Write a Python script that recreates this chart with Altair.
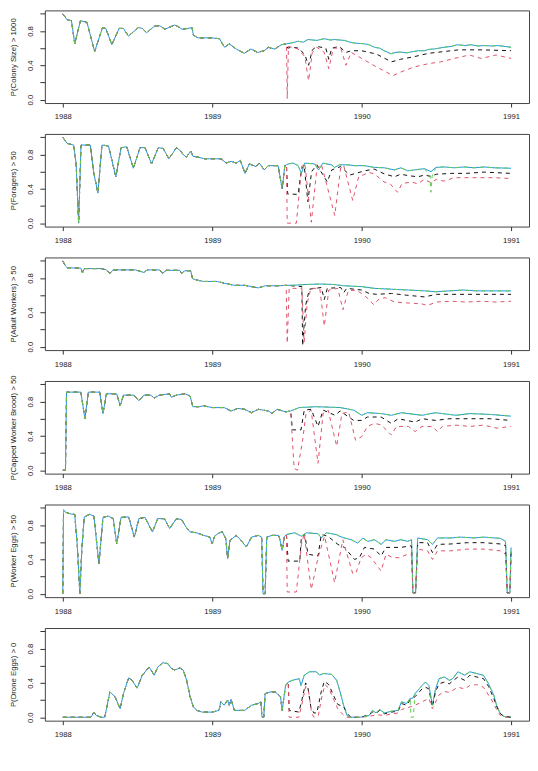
import altair as alt
import pandas as pd

years = [1988, 1989, 1990, 1991]
y_ticks = [0.0, 0.2, 0.4, 0.6, 0.8, 1.0]
titles = ["P(Colony Size) > 1000", "P(Foragers) > 50", "P(Adult Workers) > 50",
          "P(Capped Worker Brood) > 50", "P(Worker Eggs) > 50", "P(Drone Eggs) > 0"]

# ---------------- Panel 1: colony size ----------------
colony_base = [(1988.000, 1.00), (1988.029, 0.93), (1988.058, 0.92), (1988.080, 0.65), (1988.118, 0.92),
               (1988.162, 0.90), (1988.213, 0.56), (1988.266, 0.84), (1988.288, 0.83), (1988.328, 0.64),
               (1988.377, 0.83), (1988.406, 0.83), (1988.439, 0.74), (1988.506, 0.84), (1988.532, 0.83),
               (1988.561, 0.78), (1988.616, 0.86), (1988.650, 0.86), (1988.683, 0.82), (1988.749, 0.87),
               (1988.783, 0.84), (1988.798, 0.82), (1988.838, 0.83), (1988.865, 0.84), (1988.874, 0.75),
               (1988.905, 0.72), (1988.993, 0.72), (1989.049, 0.71), (1989.082, 0.61), (1989.115, 0.65),
               (1989.160, 0.59), (1989.215, 0.54), (1989.259, 0.59), (1989.304, 0.55), (1989.348, 0.57),
               (1989.375, 0.61), (1989.419, 0.59), (1989.463, 0.64), (1989.497, 0.65)]
colony_blue = [(1989.53, 0.66), (1989.575, 0.68), (1989.61, 0.67), (1989.64, 0.70), (1989.70, 0.69),
               (1989.75, 0.71), (1989.79, 0.695), (1989.82, 0.70), (1989.885, 0.69), (1989.92, 0.67),
               (1989.95, 0.66), (1990.02, 0.65), (1990.05, 0.64), (1990.085, 0.61), (1990.12, 0.60),
               (1990.15, 0.57), (1990.195, 0.535), (1990.23, 0.55), (1990.26, 0.555), (1990.30, 0.545),
               (1990.33, 0.555), (1990.38, 0.57), (1990.42, 0.57), (1990.45, 0.585), (1990.485, 0.59),
               (1990.52, 0.60), (1990.55, 0.61), (1990.60, 0.62), (1990.64, 0.64), (1990.69, 0.63),
               (1990.73, 0.64), (1990.78, 0.625), (1990.82, 0.63), (1990.87, 0.625), (1990.91, 0.63),
               (1990.96, 0.62), (1991.0, 0.61)]
colony_black = [(1989.505, 0.60), (1989.53, 0.61), (1989.58, 0.60), (1989.62, 0.52), (1989.645, 0.40),
                (1989.67, 0.58), (1989.70, 0.62), (1989.76, 0.60), (1989.78, 0.47), (1989.80, 0.60),
                (1989.85, 0.62), (1989.895, 0.55), (1989.93, 0.57), (1990.0, 0.57), (1990.1, 0.53),
                (1990.2, 0.44), (1990.26, 0.47), (1990.35, 0.50), (1990.45, 0.54), (1990.55, 0.56),
                (1990.65, 0.58), (1990.8, 0.58), (1991.0, 0.57)]
colony_red = [(1989.502, 0.01), (1989.51, 0.62), (1989.575, 0.59), (1989.62, 0.50), (1989.645, 0.22),
              (1989.67, 0.55), (1989.70, 0.61), (1989.75, 0.55), (1989.78, 0.36), (1989.81, 0.60),
              (1989.86, 0.60), (1989.895, 0.40), (1989.93, 0.55), (1990.0, 0.48), (1990.1, 0.38),
              (1990.21, 0.28), (1990.26, 0.32), (1990.35, 0.38), (1990.45, 0.42), (1990.53, 0.44),
              (1990.62, 0.48), (1990.72, 0.52), (1990.8, 0.48), (1990.9, 0.52), (1991.0, 0.48)]
colony_green = colony_blue

# ---------------- Panel 2: foragers ----------------
forager_base = [(1988.000, 1.00), (1988.029, 0.93), (1988.051, 0.92), (1988.073, 0.91), (1988.089, 0.70),
                (1988.106, 0.00), (1988.122, 0.91), (1988.184, 0.91), (1988.206, 0.60), (1988.235, 0.35),
                (1988.262, 0.91), (1988.306, 0.90), (1988.355, 0.54), (1988.390, 0.88), (1988.428, 0.89),
                (1988.472, 0.64), (1988.517, 0.88), (1988.550, 0.88), (1988.594, 0.69), (1988.639, 0.88),
                (1988.672, 0.87), (1988.710, 0.75), (1988.761, 0.88), (1988.789, 0.84), (1988.805, 0.80),
                (1988.827, 0.77), (1988.856, 0.84), (1988.871, 0.78), (1988.905, 0.77), (1988.949, 0.75),
                (1989.060, 0.75), (1989.093, 0.70), (1989.126, 0.72), (1989.160, 0.70), (1989.188, 0.73),
                (1989.220, 0.58), (1989.248, 0.69), (1989.293, 0.66), (1989.315, 0.70), (1989.348, 0.62),
                (1989.375, 0.67), (1989.441, 0.67), (1989.468, 0.40), (1989.486, 0.67), (1989.497, 0.68)]
forager_blue = [(1989.508, 0.69), (1989.541, 0.70), (1989.575, 0.67), (1989.597, 0.58), (1989.619, 0.70),
                (1989.686, 0.69), (1989.712, 0.62), (1989.741, 0.70), (1989.797, 0.68), (1989.819, 0.65),
                (1989.852, 0.68), (1989.908, 0.68), (1989.952, 0.67), (1990.019, 0.67), (1990.085, 0.65),
                (1990.152, 0.645), (1990.219, 0.62), (1990.263, 0.645), (1990.308, 0.61), (1990.375, 0.625),
                (1990.42, 0.635), (1990.464, 0.60), (1990.497, 0.65), (1990.553, 0.655), (1990.62, 0.645),
                (1990.686, 0.655), (1990.752, 0.645), (1990.819, 0.655), (1990.886, 0.645), (1991.0, 0.64)]
forager_black = [(1989.505, 0.34), (1989.575, 0.335), (1989.59, 0.54), (1989.60, 0.63), (1989.615, 0.68),
                 (1989.64, 0.25), (1989.665, 0.60), (1989.70, 0.68), (1989.77, 0.48), (1989.80, 0.62),
                 (1989.86, 0.66), (1989.92, 0.56), (1989.96, 0.58), (1990.02, 0.61), (1990.085, 0.63),
                 (1990.15, 0.575), (1990.22, 0.54), (1990.26, 0.57), (1990.31, 0.555), (1990.375, 0.54),
                 (1990.42, 0.56), (1990.464, 0.545), (1990.50, 0.57), (1990.6, 0.58), (1990.7, 0.58),
                 (1990.82, 0.595), (1991.0, 0.58)]
forager_red = [(1989.502, 0.00), (1989.563, 0.00), (1989.59, 0.50), (1989.60, 0.67), (1989.62, 0.69),
               (1989.663, 0.01), (1989.70, 0.63), (1989.73, 0.69), (1989.82, 0.09), (1989.86, 0.65),
               (1989.88, 0.67), (1989.94, 0.265), (1989.98, 0.54), (1990.05, 0.59), (1990.085, 0.575),
               (1990.15, 0.48), (1990.19, 0.46), (1990.24, 0.36), (1990.27, 0.46), (1990.33, 0.48),
               (1990.375, 0.46), (1990.42, 0.51), (1990.464, 0.47), (1990.50, 0.51), (1990.55, 0.49),
               (1990.62, 0.53), (1990.75, 0.53), (1990.88, 0.53), (1991.0, 0.52)]
forager_green = [(1989.508, 0.69), (1989.541, 0.70), (1989.575, 0.67), (1989.597, 0.58), (1989.619, 0.70),
                 (1989.686, 0.69), (1989.712, 0.62), (1989.741, 0.70), (1989.797, 0.68), (1989.819, 0.65),
                 (1989.852, 0.68), (1989.908, 0.68), (1989.952, 0.67), (1990.019, 0.67), (1990.085, 0.65),
                 (1990.152, 0.645), (1990.219, 0.62), (1990.263, 0.645), (1990.308, 0.61), (1990.375, 0.625),
                 (1990.42, 0.635), (1990.458, 0.55), (1990.464, 0.36), (1990.472, 0.55), (1990.497, 0.65),
                 (1990.553, 0.655), (1990.62, 0.645), (1990.686, 0.655), (1990.752, 0.645), (1990.819, 0.655),
                 (1990.886, 0.645), (1991.0, 0.64)]

# ---------------- Panel 3: adult workers ----------------
adult_base = [(1988.000, 1.00), (1988.018, 0.94), (1988.030, 0.92), (1988.121, 0.915), (1988.132, 0.86),
              (1988.144, 0.91), (1988.258, 0.91), (1988.292, 0.895), (1988.315, 0.855), (1988.338, 0.895),
              (1988.486, 0.895), (1988.543, 0.865), (1988.566, 0.895), (1988.646, 0.895), (1988.669, 0.855),
              (1988.692, 0.89), (1988.783, 0.89), (1988.795, 0.855), (1988.817, 0.885), (1988.856, 0.885),
              (1988.868, 0.795), (1988.886, 0.78), (1988.943, 0.76), (1989.034, 0.76), (1989.080, 0.74),
              (1989.148, 0.715), (1989.217, 0.715), (1989.263, 0.70), (1989.308, 0.685), (1989.354, 0.71),
              (1989.445, 0.71), (1989.495, 0.715)]
adult_blue = [(1989.537, 0.715), (1989.628, 0.725), (1989.719, 0.73), (1989.811, 0.725), (1989.879, 0.71),
              (1990.0, 0.70), (1990.084, 0.68), (1990.199, 0.67), (1990.313, 0.66), (1990.427, 0.65),
              (1990.495, 0.64), (1990.587, 0.65), (1990.678, 0.66), (1990.769, 0.65), (1990.884, 0.65),
              (1991.0, 0.65)]
adult_black = [(1989.6, 0.70), (1989.605, 0.01), (1989.625, 0.48), (1989.65, 0.67), (1989.73, 0.69),
               (1989.75, 0.55), (1989.77, 0.68), (1989.86, 0.69), (1989.88, 0.63), (1989.9, 0.68),
               (1990.0, 0.66), (1990.05, 0.62), (1990.1, 0.61), (1990.2, 0.62), (1990.3, 0.60),
               (1990.42, 0.58), (1990.5, 0.61), (1990.7, 0.61), (1990.85, 0.61), (1991.0, 0.61)]
adult_red = [(1989.502, 0.04), (1989.515, 0.68), (1989.6, 0.68), (1989.615, 0.05), (1989.635, 0.50),
             (1989.66, 0.68), (1989.72, 0.68), (1989.75, 0.24), (1989.78, 0.66), (1989.84, 0.68),
             (1989.875, 0.43), (1989.91, 0.65), (1989.96, 0.66), (1990.0, 0.62), (1990.05, 0.55),
             (1990.08, 0.49), (1990.12, 0.56), (1990.16, 0.57), (1990.22, 0.52), (1990.3, 0.51),
             (1990.4, 0.50), (1990.44, 0.48), (1990.5, 0.52), (1990.6, 0.53), (1990.7, 0.52),
             (1990.8, 0.53), (1990.9, 0.52), (1991.0, 0.53)]
adult_green = adult_blue

# ---------------- Panel 4: capped worker brood ----------------
brood_base = [(1988.000, 0.0), (1988.018, 0.0), (1988.025, 0.91), (1988.121, 0.91), (1988.148, 0.60),
              (1988.171, 0.91), (1988.247, 0.91), (1988.269, 0.66), (1988.292, 0.89), (1988.361, 0.89),
              (1988.384, 0.75), (1988.406, 0.875), (1988.475, 0.875), (1988.509, 0.81), (1988.543, 0.875),
              (1988.589, 0.875), (1988.612, 0.84), (1988.646, 0.875), (1988.715, 0.89), (1988.726, 0.85),
              (1988.760, 0.875), (1988.817, 0.89), (1988.852, 0.865), (1988.870, 0.74), (1988.909, 0.74),
              (1988.943, 0.75), (1989.0, 0.73), (1989.080, 0.73), (1989.126, 0.69), (1989.171, 0.72),
              (1989.217, 0.71), (1989.263, 0.67), (1989.308, 0.71), (1989.377, 0.69), (1989.400, 0.66),
              (1989.434, 0.71), (1989.491, 0.68), (1989.525, 0.69)]
brood_blue = [(1989.582, 0.73), (1989.696, 0.74), (1989.856, 0.73), (1989.947, 0.70), (1990.0, 0.64),
              (1990.039, 0.67), (1990.13, 0.66), (1990.199, 0.64), (1990.267, 0.67), (1990.404, 0.64),
              (1990.495, 0.67), (1990.632, 0.64), (1990.724, 0.66), (1990.861, 0.65), (1991.0, 0.63)]
brood_black = [(1989.537, 0.47), (1989.594, 0.47), (1989.616, 0.70), (1989.662, 0.71), (1989.708, 0.51),
               (1989.742, 0.70), (1989.822, 0.64), (1989.856, 0.69), (1989.947, 0.58), (1990.0, 0.58),
               (1990.039, 0.62), (1990.13, 0.62), (1990.199, 0.545), (1990.244, 0.60), (1990.358, 0.56),
               (1990.404, 0.60), (1990.495, 0.58), (1990.587, 0.60), (1990.678, 0.60), (1990.861, 0.60),
               (1991.0, 0.58)]
brood_red = [(1989.548, 0.02), (1989.571, 0.0), (1989.605, 0.35), (1989.628, 0.66), (1989.662, 0.70),
             (1989.708, 0.08), (1989.742, 0.66), (1989.776, 0.70), (1989.833, 0.28), (1989.868, 0.66),
             (1989.913, 0.68), (1989.959, 0.35), (1990.0, 0.39), (1990.039, 0.51), (1990.084, 0.545),
             (1990.13, 0.53), (1990.199, 0.41), (1990.233, 0.51), (1990.313, 0.51), (1990.358, 0.45),
             (1990.404, 0.51), (1990.473, 0.51), (1990.507, 0.45), (1990.541, 0.51), (1990.632, 0.525),
             (1990.724, 0.51), (1990.815, 0.525), (1990.906, 0.49), (1991.0, 0.51)]
brood_green = brood_blue

# ---------------- Panel 5: worker eggs ----------------
eggs_base = [(1988.000, 0.0), (1988.005, 0.98), (1988.018, 0.95), (1988.053, 0.93), (1988.080, 0.925),
             (1988.098, 0.54), (1988.114, 0.0), (1988.128, 0.54), (1988.144, 0.895), (1988.178, 0.925),
             (1988.208, 0.905), (1988.242, 0.35), (1988.269, 0.89), (1988.304, 0.905), (1988.338, 0.875),
             (1988.361, 0.58), (1988.390, 0.89), (1988.441, 0.895), (1988.479, 0.66), (1988.509, 0.875),
             (1988.550, 0.89), (1988.600, 0.72), (1988.635, 0.875), (1988.680, 0.875), (1988.715, 0.76),
             (1988.760, 0.875), (1988.795, 0.865), (1988.824, 0.78), (1988.852, 0.72), (1988.897, 0.71),
             (1988.943, 0.68), (1988.984, 0.66), (1989.0, 0.58), (1989.016, 0.67), (1989.046, 0.71),
             (1989.068, 0.72), (1989.091, 0.64), (1989.103, 0.41), (1989.119, 0.62), (1989.160, 0.68),
             (1989.183, 0.64), (1989.228, 0.545), (1989.263, 0.66), (1989.308, 0.68), (1989.331, 0.66),
             (1989.340, 0.0), (1989.354, 0.0), (1989.365, 0.66), (1989.400, 0.68), (1989.445, 0.68),
             (1989.457, 0.60), (1989.468, 0.505), (1989.482, 0.66), (1989.497, 0.69)]
eggs_blue = [(1989.552, 0.71), (1989.597, 0.67), (1989.630, 0.71), (1989.708, 0.70), (1989.730, 0.65),
             (1989.763, 0.71), (1989.830, 0.69), (1989.852, 0.67), (1989.885, 0.65), (1989.930, 0.63),
             (1989.974, 0.59), (1990.008, 0.65), (1990.041, 0.61), (1990.086, 0.63), (1990.130, 0.575),
             (1990.163, 0.63), (1990.219, 0.61), (1990.263, 0.63), (1990.308, 0.61), (1990.334, 0.63),
             (1990.343, 0.01), (1990.361, 0.01), (1990.375, 0.65), (1990.441, 0.63), (1990.474, 0.575),
             (1990.508, 0.65), (1990.597, 0.65), (1990.663, 0.66), (1990.752, 0.65), (1990.818, 0.66),
             (1990.929, 0.645), (1990.963, 0.61), (1990.974, 0.01), (1990.992, 0.01), (1991.0, 0.54)]
eggs_black = [(1989.508, 0.38), (1989.586, 0.38), (1989.597, 0.67), (1989.619, 0.69), (1989.641, 0.46),
              (1989.708, 0.44), (1989.730, 0.69), (1989.774, 0.67), (1989.841, 0.575), (1989.885, 0.54),
              (1989.952, 0.40), (1989.985, 0.42), (1990.019, 0.54), (1990.086, 0.52), (1990.130, 0.44),
              (1990.163, 0.54), (1990.263, 0.54), (1990.334, 0.56), (1990.343, 0.01), (1990.361, 0.01),
              (1990.375, 0.595), (1990.441, 0.595), (1990.474, 0.48), (1990.508, 0.575), (1990.597, 0.58),
              (1990.707, 0.595), (1990.818, 0.595), (1990.929, 0.58), (1990.963, 0.56), (1990.974, 0.01),
              (1990.992, 0.01), (1991.0, 0.50)]
eggs_red = [(1989.502, 0.02), (1989.563, 0.02), (1989.597, 0.575), (1989.615, 0.70), (1989.663, 0.05),
            (1989.708, 0.42), (1989.752, 0.67), (1989.819, 0.13), (1989.874, 0.63), (1989.941, 0.23),
            (1989.963, 0.25), (1989.997, 0.42), (1990.030, 0.46), (1990.063, 0.42), (1990.130, 0.265),
            (1990.163, 0.46), (1990.208, 0.42), (1990.252, 0.42), (1990.308, 0.46), (1990.334, 0.46),
            (1990.343, 0.01), (1990.361, 0.01), (1990.375, 0.52), (1990.441, 0.50), (1990.474, 0.40),
            (1990.508, 0.50), (1990.597, 0.50), (1990.707, 0.52), (1990.818, 0.52), (1990.929, 0.50),
            (1990.963, 0.46), (1990.974, 0.01), (1990.992, 0.01), (1991.0, 0.42)]
eggs_green = eggs_blue

# ---------------- Panel 6: drone eggs ----------------
drone_base = [(1988.000, 0.0), (1988.189, 0.0), (1988.208, 0.06), (1988.224, 0.02), (1988.258, 0.0),
              (1988.281, 0.0), (1988.315, 0.295), (1988.349, 0.24), (1988.384, 0.10), (1988.406, 0.275),
              (1988.441, 0.46), (1988.463, 0.43), (1988.498, 0.34), (1988.532, 0.49), (1988.578, 0.585),
              (1988.612, 0.49), (1988.635, 0.585), (1988.669, 0.635), (1988.703, 0.625), (1988.726, 0.57),
              (1988.749, 0.55), (1988.783, 0.575), (1988.806, 0.55), (1988.829, 0.43), (1988.852, 0.24),
              (1988.874, 0.12), (1988.897, 0.08), (1988.932, 0.06), (1989.0, 0.06), (1989.046, 0.08),
              (1989.057, 0.18), (1989.080, 0.14), (1989.103, 0.20), (1989.114, 0.14), (1989.126, 0.21),
              (1989.148, 0.08), (1989.217, 0.08), (1989.263, 0.14), (1989.308, 0.16), (1989.326, 0.18),
              (1989.333, 0.0), (1989.345, 0.0), (1989.354, 0.275), (1989.388, 0.295), (1989.422, 0.295),
              (1989.457, 0.24), (1989.468, 0.08), (1989.491, 0.37), (1989.509, 0.41)]
drone_blue = [(1989.537, 0.43), (1989.582, 0.45), (1989.594, 0.37), (1989.616, 0.49), (1989.651, 0.53),
              (1989.696, 0.53), (1989.719, 0.49), (1989.742, 0.51), (1989.799, 0.50), (1989.833, 0.43),
              (1989.856, 0.295), (1989.879, 0.14), (1989.902, 0.02), (1989.925, 0.0), (1989.993, 0.0),
              (1990.050, 0.02), (1990.073, 0.08), (1990.096, 0.05), (1990.119, 0.09), (1990.153, 0.05),
              (1990.199, 0.07), (1990.244, 0.08), (1990.267, 0.18), (1990.301, 0.16), (1990.324, 0.22),
              (1990.340, 0.22), (1990.358, 0.275), (1990.404, 0.37), (1990.427, 0.41), (1990.450, 0.37),
              (1990.473, 0.14), (1990.495, 0.33), (1990.518, 0.45), (1990.553, 0.47), (1990.587, 0.43),
              (1990.610, 0.45), (1990.644, 0.53), (1990.667, 0.51), (1990.690, 0.49), (1990.724, 0.53),
              (1990.769, 0.51), (1990.815, 0.49), (1990.849, 0.39), (1990.884, 0.26), (1990.906, 0.12),
              (1990.929, 0.04), (1990.952, 0.01), (1991.0, 0.0)]
drone_black = [(1989.515, 0.08), (1989.58, 0.06), (1989.60, 0.20), (1989.625, 0.40), (1989.64, 0.35),
               (1989.66, 0.12), (1989.68, 0.05), (1989.70, 0.05), (1989.73, 0.30), (1989.75, 0.42),
               (1989.78, 0.38), (1989.81, 0.26), (1989.84, 0.15), (1989.88, 0.12), (1989.91, 0.03),
               (1989.93, 0.0), (1989.993, 0.0), (1990.05, 0.03), (1990.073, 0.06), (1990.10, 0.05),
               (1990.119, 0.08), (1990.153, 0.04), (1990.20, 0.06), (1990.244, 0.07), (1990.267, 0.16),
               (1990.301, 0.14), (1990.324, 0.20), (1990.358, 0.24), (1990.404, 0.33), (1990.427, 0.35),
               (1990.45, 0.33), (1990.473, 0.12), (1990.495, 0.30), (1990.518, 0.39), (1990.553, 0.41),
               (1990.587, 0.39), (1990.644, 0.47), (1990.69, 0.43), (1990.724, 0.49), (1990.769, 0.47),
               (1990.815, 0.45), (1990.849, 0.36), (1990.884, 0.22), (1990.906, 0.12), (1990.93, 0.04),
               (1990.952, 0.01), (1991.0, 0.0)]
drone_red = [(1989.515, 0.0), (1989.58, 0.0), (1989.60, 0.15), (1989.625, 0.36), (1989.645, 0.30),
             (1989.665, 0.05), (1989.68, 0.0), (1989.71, 0.02), (1989.735, 0.25), (1989.755, 0.38),
             (1989.78, 0.34), (1989.81, 0.22), (1989.84, 0.10), (1989.87, 0.04), (1989.90, 0.0),
             (1989.993, 0.0), (1990.05, 0.01), (1990.1, 0.03), (1990.153, 0.02), (1990.20, 0.04),
             (1990.244, 0.05), (1990.267, 0.09), (1990.324, 0.12), (1990.358, 0.14), (1990.404, 0.18),
             (1990.45, 0.22), (1990.473, 0.10), (1990.518, 0.26), (1990.553, 0.30), (1990.587, 0.29),
             (1990.644, 0.35), (1990.69, 0.33), (1990.724, 0.37), (1990.769, 0.38), (1990.815, 0.35),
             (1990.849, 0.26), (1990.884, 0.16), (1990.906, 0.08), (1990.93, 0.02), (1990.952, 0.0),
             (1991.0, 0.0)]
drone_green = [(1989.537, 0.43), (1989.582, 0.45), (1989.594, 0.37), (1989.616, 0.49), (1989.651, 0.53),
               (1989.696, 0.53), (1989.719, 0.49), (1989.742, 0.51), (1989.799, 0.50), (1989.833, 0.43),
               (1989.856, 0.295), (1989.879, 0.14), (1989.902, 0.02), (1989.925, 0.0), (1989.993, 0.0),
               (1990.050, 0.02), (1990.073, 0.08), (1990.096, 0.05), (1990.119, 0.09), (1990.153, 0.05),
               (1990.199, 0.07), (1990.244, 0.08), (1990.267, 0.18), (1990.301, 0.16), (1990.324, 0.22),
               (1990.330, 0.0), (1990.345, 0.0), (1990.358, 0.275), (1990.404, 0.37), (1990.427, 0.41),
               (1990.450, 0.37), (1990.473, 0.14), (1990.495, 0.33), (1990.518, 0.45), (1990.553, 0.47),
               (1990.587, 0.43), (1990.610, 0.45), (1990.644, 0.53), (1990.667, 0.51), (1990.690, 0.49),
               (1990.724, 0.53), (1990.769, 0.51), (1990.815, 0.49), (1990.849, 0.39), (1990.884, 0.26),
               (1990.906, 0.12), (1990.929, 0.04), (1990.952, 0.01), (1991.0, 0.0)]

panels = [
    (colony_base, colony_blue, colony_black, colony_red, colony_green),
    (forager_base, forager_blue, forager_black, forager_red, forager_green),
    (adult_base, adult_blue, adult_black, adult_red, adult_green),
    (brood_base, brood_blue, brood_black, brood_red, brood_green),
    (eggs_base, eggs_blue, eggs_black, eggs_red, eggs_green),
    (drone_base, drone_blue, drone_black, drone_red, drone_green),
]

series_names = ["blue", "black", "red", "green"]
styles = {
    "blue": dict(color="#2297E6"),
    "black": dict(color="#111111", strokeDash=[4, 4]),
    "red": dict(color="#DF536B", strokeDash=[4, 4]),
    "green": dict(color="#61D04F", strokeDash=[4, 4]),
}

FONT = "Liberation Sans"
label_expr = ("datum.value < 0.05 ? '0.0' : (abs(datum.value - 0.4) < 0.01 ? '0.4' : "
              "(abs(datum.value - 0.8) < 0.01 ? '0.8' : ''))")

charts = []
for p, (title, parts) in enumerate(zip(titles, panels)):
    base = parts[0]
    rows = []
    for s, tail in zip(series_names, parts[1:]):
        for i, (t, v) in enumerate(list(base) + list(tail)):
            rows.append({"s": s, "i": i, "t": t, "v": v})
    df = pd.DataFrame(rows)

    x = alt.X("t:Q",
              scale=alt.Scale(domain=[1987.88, 1991.12], nice=False, zero=False),
              axis=alt.Axis(values=years, format="d", title=None, grid=False, domain=False,
                            tickSize=4, labelPadding=6, labelFlush=False))
    y = alt.Y("v:Q",
              scale=alt.Scale(domain=[-0.04, 1.04], nice=False, zero=False),
              axis=alt.Axis(values=y_ticks, labelExpr=label_expr, title=title, grid=False,
                            domain=False, tickSize=5, labelPadding=5, labelAngle=-90,
                            labelAlign="center", labelBaseline="bottom", labelOverlap=False,
                            titlePadding=9, labelFlush=False))
    layers = []
    for s in series_names:
        layers.append(
            alt.Chart(df)
            .transform_filter(alt.datum.s == s)
            .mark_line(strokeWidth=1, clip=True, **styles[s])
            .encode(x=x, y=y, order="i:Q")
        )
    charts.append(alt.layer(*layers).properties(width=486, height=93))

chart = (
    alt.vconcat(*charts, spacing=31, bounds="flush")
    .properties(padding={"left": 1, "top": 0, "right": 0, "bottom": 0}, background="white")
    .configure_view(stroke="#444444", strokeWidth=1)
    .configure_axis(labelFont=FONT, titleFont=FONT, labelFontSize=7.7, titleFontSize=7.8,
                    titleFontWeight="normal", labelColor="#222222", titleColor="#222222",
                    tickColor="#333333")
)

chart.save("out.html", embed_options={"renderer": "svg", "actions": False})
